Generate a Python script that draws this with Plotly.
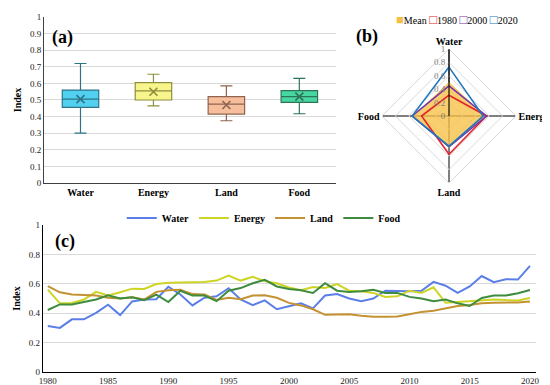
import plotly.graph_objects as go

# ---------------- data ----------------
categories = ["Water", "Energy", "Land", "Food"]
box_low = [0.30, 0.465, 0.375, 0.417]
box_q1 = [0.455, 0.50, 0.415, 0.486]
box_median = [0.505, 0.555, 0.475, 0.52]
box_q3 = [0.56, 0.605, 0.52, 0.556]
box_high = [0.72, 0.655, 0.585, 0.63]
box_mean = [0.505, 0.55, 0.47, 0.52]

radar_axes = ["Water", "Energy", "Land", "Food"]
radar_mean = [0.50, 0.53, 0.47, 0.53]
radar_1980 = [0.31, 0.56, 0.57, 0.41]
radar_2000 = [0.45, 0.56, 0.46, 0.55]
radar_2020 = [0.73, 0.51, 0.45, 0.55]

years = list(range(1980, 2021))
water = [0.313, 0.30, 0.358, 0.358, 0.402, 0.458, 0.387, 0.48, 0.493, 0.495,
         0.58, 0.527, 0.453, 0.505, 0.515, 0.57, 0.493, 0.455, 0.487, 0.427,
         0.447, 0.467, 0.433, 0.52, 0.531, 0.50, 0.482, 0.50, 0.553, 0.549,
         0.549, 0.553, 0.613, 0.587, 0.538, 0.582, 0.653, 0.611, 0.631, 0.629,
         0.722]
energy = [0.56, 0.467, 0.47, 0.493, 0.545, 0.52, 0.542, 0.567, 0.565, 0.598,
          0.607, 0.609, 0.609, 0.613, 0.622, 0.656, 0.622, 0.647, 0.618, 0.604,
          0.575, 0.556, 0.578, 0.571, 0.598, 0.553, 0.549, 0.538, 0.511, 0.516,
          0.553, 0.538, 0.576, 0.471, 0.476, 0.482, 0.487, 0.493, 0.489, 0.487,
          0.504]
land = [0.584, 0.542, 0.527, 0.522, 0.52, 0.505, 0.50, 0.509, 0.493, 0.545,
        0.556, 0.56, 0.53, 0.527, 0.49, 0.505, 0.495, 0.52, 0.522, 0.505,
        0.47, 0.453, 0.427, 0.389, 0.393, 0.393, 0.382, 0.376, 0.376, 0.378,
        0.393, 0.409, 0.416, 0.433, 0.449, 0.456, 0.467, 0.471, 0.471, 0.473,
        0.48]
food = [0.422, 0.46, 0.46, 0.476, 0.493, 0.522, 0.50, 0.509, 0.489, 0.527,
        0.476, 0.553, 0.52, 0.52, 0.482, 0.553, 0.571, 0.604, 0.627, 0.582,
        0.565, 0.556, 0.538, 0.604, 0.553, 0.544, 0.549, 0.56, 0.538, 0.538,
        0.511, 0.50, 0.482, 0.493, 0.467, 0.449, 0.504, 0.52, 0.52, 0.536,
        0.558]

# ---------------- styles ----------------
FONT = "Liberation Serif, Times New Roman, DejaVu Serif, serif"
box_fill = ["#52D0F0", "#F8F58C", "#F6BE9C", "#48D6A2"]
box_line = ["#2C7486", "#8E8E3C", "#8E6450", "#2D7457"]
line_colors = {"Water": "#5C7EE8", "Energy": "#CDD424", "Land": "#C49232", "Food": "#3E8C3E"}
radar_colors = {"1980": "#E3242B", "2000": "#7A35A8", "2020": "#1F78BE"}
GRID = "#D9D9D9"

fig = go.Figure()

# ---------------- (a) box plots ----------------
for i, c in enumerate(categories):
    fig.add_trace(go.Box(
        x=[c], q1=[box_q1[i]], median=[box_median[i]], q3=[box_q3[i]],
        lowerfence=[box_low[i]], upperfence=[box_high[i]],
        fillcolor=box_fill[i], line=dict(color=box_line[i], width=1.2),
        width=0.5, whiskerwidth=0.33, boxpoints=False, showlegend=False,
        xaxis="x", yaxis="y", hoverinfo="skip"))
fig.add_trace(go.Scatter(
    x=categories, y=box_mean, mode="markers", showlegend=False,
    marker=dict(symbol="x-thin", size=8, line=dict(width=1.6, color=box_line)),
    xaxis="x", yaxis="y"))

# ---------------- (b) radar ----------------
def closed(v):
    return list(v) + [v[0]]

theta = closed(radar_axes)
fig.add_trace(go.Scatterpolar(
    r=closed(radar_mean), theta=theta, fill="toself", mode="lines",
    fillcolor="rgba(246,192,70,0.78)", line=dict(color="rgba(246,192,70,0.9)", width=1),
    showlegend=False, subplot="polar"))
for name, vals in (("1980", radar_1980), ("2000", radar_2000), ("2020", radar_2020)):
    fig.add_trace(go.Scatterpolar(
        r=closed(vals), theta=theta, mode="lines",
        line=dict(color=radar_colors[name], width=1.6),
        showlegend=False, subplot="polar"))

# ---------------- (c) time series ----------------
for name, vals in (("Water", water), ("Energy", energy), ("Land", land), ("Food", food)):
    fig.add_trace(go.Scatter(
        x=years, y=vals, mode="lines", name=name,
        line=dict(color=line_colors[name], width=2),
        xaxis="x2", yaxis="y2"))

# radar legend as coloured text
sq = "font-size:13px"
radar_legend = (
    f"<span style='color:#F6C046;{sq}'>■</span>Mean "
    f"<span style='color:{radar_colors['1980']};{sq}'>□</span>1980 "
    f"<span style='color:{radar_colors['2000']};{sq}'>□</span>2000 "
    f"<span style='color:{radar_colors['2020']};{sq}'>□</span>2020"
)

fig.update_layout(
    width=550, height=385,
    margin=dict(l=0, r=0, t=0, b=0, autoexpand=False),
    paper_bgcolor="white", plot_bgcolor="white",
    font=dict(family=FONT, color="black", size=9),
    boxmode="overlay",
    xaxis=dict(domain=[0.0655, 0.596], range=[-0.5, 3.5], type="category",
               categoryorder="array", categoryarray=categories, automargin=False,
               showgrid=False, showline=True, linecolor="#404040", linewidth=1,
               ticks="", tickfont=dict(family=FONT, size=10, color="black", weight="bold")),
    yaxis=dict(domain=[0.5455, 0.9766], range=[0, 1], dtick=0.1, automargin=False,
               showgrid=True, gridcolor=GRID, zeroline=False,
               showline=True, linecolor="#404040", linewidth=1, ticks="",
               tickfont=dict(family=FONT, size=9, color="#222"),
               title=dict(text="Index", font=dict(family=FONT, size=10, weight="bold"), standoff=6)),
    xaxis2=dict(domain=[0.0636, 0.96], range=[1979.6, 2020.5], tick0=1980, dtick=5,
                showgrid=False, showline=True, linecolor="black", linewidth=1.2,
                ticks="", tickfont=dict(family=FONT, size=9, color="#222"),
                anchor="y2", automargin=False),
    yaxis2=dict(domain=[1 - 364 / 385, 1 - 217 / 385], range=[0, 1], dtick=0.2, automargin=False,
                showgrid=True, gridcolor=GRID, zeroline=False,
                showline=True, linecolor="black", linewidth=1.2, ticks="",
                tickfont=dict(family=FONT, size=9, color="#222"),
                title=dict(text="Index", font=dict(family=FONT, size=10, weight="bold"), standoff=6),
                anchor="x2"),
    polar=dict(
        domain=dict(x=[374 / 550, 508 / 550], y=[1 - 175 / 385, 1 - 41 / 385]),
        bgcolor="rgba(0,0,0,0)", gridshape="linear",
        radialaxis=dict(range=[0, 1], dtick=0.2, angle=90, tickangle=90,
                        side="counterclockwise", showline=True, linecolor="black",
                        linewidth=1, gridcolor=GRID, ticks="",
                        tickfont=dict(family=FONT, size=9, color="#7F7F7F")),
        angularaxis=dict(rotation=90, direction="clockwise", type="category",
                         categoryorder="array", categoryarray=radar_axes,
                         gridcolor="black", gridwidth=1, showline=True,
                         linecolor=GRID, ticks="",
                         tickfont=dict(family=FONT, size=10, color="black", weight="bold")),
    ),
    legend=dict(orientation="h", x=0.465, y=0.4545, xanchor="center", yanchor="middle",
                font=dict(family=FONT, size=10, weight="bold"), bgcolor="rgba(0,0,0,0)",
                itemwidth=30, tracegroupgap=0),
    annotations=[
        dict(text="(a)", x=42 / 550, y=1 - 29 / 385, xref="paper", yref="paper",
             xanchor="left", yanchor="middle", showarrow=False,
             font=dict(family=FONT, size=18, weight="bold")),
        dict(text="(b)", x=346 / 550, y=1 - 28 / 385, xref="paper", yref="paper",
             xanchor="left", yanchor="middle", showarrow=False,
             font=dict(family=FONT, size=18, weight="bold")),
        dict(text="(c)", x=45 / 550, y=1 - 233 / 385, xref="paper", yref="paper",
             xanchor="left", yanchor="middle", showarrow=False,
             font=dict(family=FONT, size=18, weight="bold")),
        dict(text=radar_legend, x=449 / 550, y=1 - 11 / 385, xref="paper", yref="paper",
             xanchor="center", yanchor="middle", showarrow=False,
             font=dict(family=FONT, size=10, color="black")),
    ],
)

fig.write_html("out.html")
